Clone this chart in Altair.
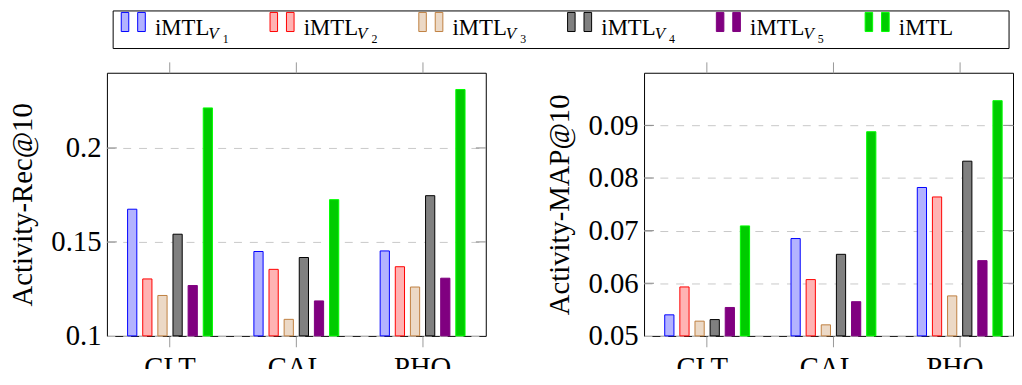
import altair as alt
import pandas as pd

categories = ["CLT", "CAL", "PHO"]
series = ["V1", "V2", "V3", "V4", "V5", "iMTL"]
sub_labels = ["1", "2", "3", "4", "5", ""]

# Activity-Rec@10
rec_v1 = [0.1674, 0.1449, 0.1452]
rec_v2 = [0.1303, 0.1354, 0.1368]
rec_v3 = [0.1215, 0.1088, 0.1260]
rec_v4 = [0.1541, 0.1417, 0.1746]
rec_v5 = [0.1268, 0.1186, 0.1307]
rec_imtl = [0.2213, 0.1725, 0.2311]

# Activity-MAP@10
map_v1 = [0.0540, 0.0685, 0.0782]
map_v2 = [0.0593, 0.0607, 0.0764]
map_v3 = [0.0528, 0.0521, 0.0576]
map_v4 = [0.0531, 0.0655, 0.0832]
map_v5 = [0.0554, 0.0565, 0.0643]
map_imtl = [0.0709, 0.0888, 0.0947]

rec_ticks = [0.1, 0.15, 0.2]
map_ticks = [0.05, 0.06, 0.07, 0.08, 0.09]

fills = ["#b3b3ff", "#ffb3b3", "#ecd9c6", "#808080", "#800080", "#00cc00"]
strokes = ["#0000ff", "#ff0000", "#bf8040", "#000000", "#800080", "#00ff00"]

FONT = "Liberation Serif"
H = 266
STEP = 383 / 3

rec_all = [rec_v1, rec_v2, rec_v3, rec_v4, rec_v5, rec_imtl]
map_all = [map_v1, map_v2, map_v3, map_v4, map_v5, map_imtl]
rows = []
for s, rv, mv in zip(series, rec_all, map_all):
    for c, r, m in zip(categories, rv, mv):
        rows.append({"cat": c, "series": s, "rec": r, "map": m})
df = pd.DataFrame(rows)


def panel(field, title, domain, ticks, fmt, width):
    pin = 3 - width / STEP
    bandw = STEP * (1 - pin)
    bpos = (STEP / 2) / bandw
    yscale = alt.Scale(domain=domain, nice=False, zero=False)
    xscale = alt.Scale(domain=categories, paddingInner=pin, paddingOuter=0)
    base = alt.Chart(df)
    bars = base.mark_bar(strokeWidth=1).encode(
        x=alt.X("cat:N", scale=xscale, sort=categories,
                axis=alt.Axis(title=None, labelAngle=0, tickSize=11, labelPadding=7,
                              bandPosition=bpos, minExtent=0, domain=False, grid=False,
                              tickColor="#999999")),
        xOffset=alt.XOffset("series:N", sort=series,
                            scale=alt.Scale(domain=series, paddingInner=0.39, paddingOuter=0,
                                            range=[20.9, 106.7])),
        y=alt.Y(f"{field}:Q", scale=yscale,
                axis=alt.Axis(title=title, values=ticks, format=fmt, ticks=False, domain=False,
                              grid=True, gridDash=[8, 8], gridColor="#c8c8c8",
                              labelPadding=6, titlePadding=13.5)),
        y2=alt.datum(domain[0]),
        fill=alt.Fill("series:N", scale=alt.Scale(domain=series, range=fills), legend=None),
        stroke=alt.Stroke("series:N", scale=alt.Scale(domain=series, range=strokes), legend=None),
    )
    top = base.mark_point(opacity=0).encode(
        x=alt.X("cat:N", scale=xscale, sort=categories,
                axis=alt.Axis(orient="top", labels=False, title=None, tickSize=11, minExtent=0,
                              bandPosition=bpos, domain=False, grid=False, tickColor="#999999")),
        y=alt.Y(f"{field}:Q", scale=yscale, axis=None),
    )
    tdf = pd.DataFrame({"v": ticks[1:]})
    tl = alt.Chart(tdf).mark_rule(color="#888888", strokeWidth=1).encode(
        y=alt.Y("v:Q", scale=yscale, axis=None), x=alt.value(0), x2=alt.value(10))
    tr = alt.Chart(tdf).mark_rule(color="#888888", strokeWidth=1).encode(
        y=alt.Y("v:Q", scale=yscale, axis=None), x=alt.value(width - 10), x2=alt.value(width))
    return alt.layer(bars, top, tl, tr).resolve_axis(
        x="independent", y="independent").properties(width=width, height=H)


left = panel("rec", "Activity-Rec@10", [0.1, 0.24], rec_ticks, "~g", 383)
right = panel("map", "Activity-MAP@10", [0.05, 0.1], map_ticks, ".2f", 373)

# legend
LEG_W, LEG_H = 912, 38
leg_df = pd.DataFrame({
    "idx": list(range(6)),
    "series": series,
    "main": ["iMTL"] * 6,
    "subV": ["V"] * 5 + [""],
    "subN": sub_labels,
})
lx = alt.Scale(domain=[0, 6], range=[14.0, 14.0 + 6 * 150.4])
lbase = alt.Chart(leg_df)
xenc = alt.X("idx:Q", scale=lx, axis=None)
fill_enc = alt.Fill("series:N", scale=alt.Scale(domain=series, range=fills), legend=None)
stroke_enc = alt.Stroke("series:N", scale=alt.Scale(domain=series, range=strokes), legend=None)
frame = alt.Chart(pd.DataFrame({"k": [0]})).mark_rect(
    fill="white", stroke="black", strokeWidth=1).encode(
    x=alt.value(6.3), x2=alt.value(LEG_W), y=alt.value(0), y2=alt.value(LEG_H))
g1 = lbase.mark_rect(strokeWidth=1, xOffset=0.5, x2Offset=8.1).encode(
    x=xenc, x2="idx:Q", y=alt.value(1.5), y2=alt.value(20.8), fill=fill_enc, stroke=stroke_enc)
g2 = lbase.mark_rect(strokeWidth=1, xOffset=17.1, x2Offset=24.8).encode(
    x=xenc, x2="idx:Q", y=alt.value(1.5), y2=alt.value(20.8), fill=fill_enc, stroke=stroke_enc)
t_main = lbase.mark_text(align="left", baseline="alphabetic", dx=34.6, font=FONT,
                         fontSize=23, color="black").encode(x=xenc, y=alt.value(24.5), text="main:N")
t_v = lbase.mark_text(align="left", baseline="alphabetic", dx=88.5, font=FONT, fontStyle="italic",
                      fontSize=17, color="black").encode(x=xenc, y=alt.value(28.7), text="subV:N")
t_n = lbase.mark_text(align="left", baseline="alphabetic", dx=103, font=FONT,
                      fontSize=12, color="black").encode(x=xenc, y=alt.value(32), text="subN:N")
legend = alt.layer(frame, g1, g2, t_main, t_v, t_n).properties(
    width=LEG_W, height=LEG_H, view=alt.ViewBackground(stroke=None))

panels = alt.hconcat(left, right, spacing=59).resolve_scale(y="independent", x="independent")

chart = alt.concat(legend, panels, columns=1, spacing=11.5).resolve_scale(
    x="independent", y="independent"
).properties(
    padding={"left": 0, "top": 0, "right": 0, "bottom": -16}
).configure_view(
    stroke="black", strokeWidth=1
).configure_axis(
    labelFont=FONT, titleFont=FONT, labelFontSize=29, titleFontSize=29,
    labelColor="black", titleColor="black", titleFontWeight="normal",
)

chart.save("out.html", embed_options={"renderer": "svg", "actions": False})
